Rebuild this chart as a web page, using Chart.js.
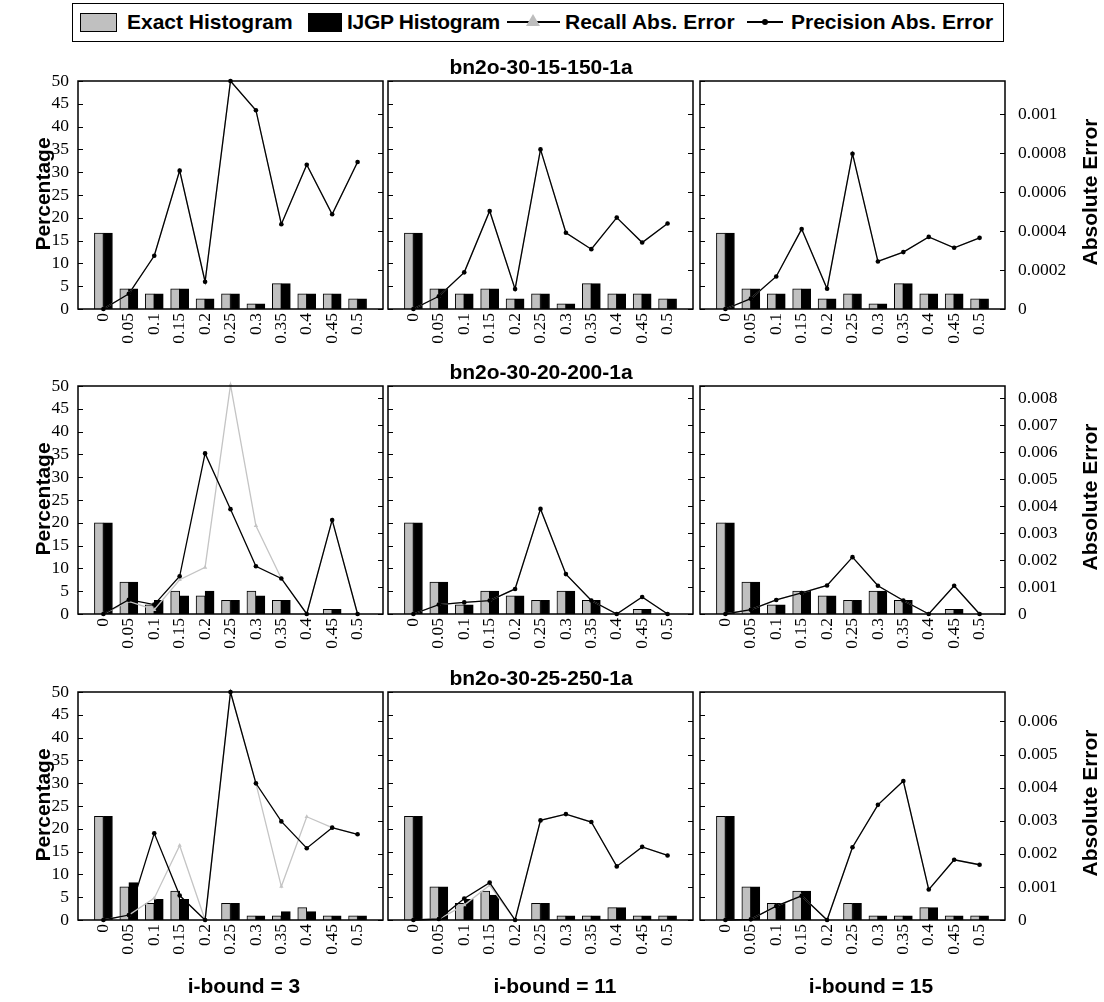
<!DOCTYPE html>
<html lang="en">
<head>
<meta charset="UTF-8">
<title>Exact vs IJGP histograms</title>
<script src="https://cdn.jsdelivr.net/npm/chart.js"></script>
<style>
    body {
        margin: 0;
        background: #fff;
    }

    #page {
        position: relative;
        width: 1104px;
        height: 1002px;
        overflow: hidden;
        font-family: "Liberation Sans", Arial, sans-serif;
        font-weight: bold;
        color: #000;
    }

    canvas {
        position: absolute;
    }

    .lbl {
        position: absolute;
        font-size: 21px;
        line-height: 24px;
        white-space: nowrap;
        z-index: 2;
    }

    .mid { transform: translate(-50%, -50%); }
    .vert { transform: translate(-50%, -50%) rotate(-90deg); }

    #legend {
        position: absolute;
        left: 72px;
        top: 3px;
        width: 932px;
        height: 39px;
        border: 1.5px solid #000;
        box-sizing: border-box;
    }

    .sw {
        position: absolute;
        top: 13px;
        height: 19px;
        border: 1.5px solid #000;
        box-sizing: border-box;
    }

    .legline {
        position: absolute;
        top: 21px;
        height: 2px;
        background: #000;
    }

    .tri {
        position: absolute;
        top: 14px;
        width: 0;
        height: 0;
        border-left: 7px solid transparent;
        border-right: 7px solid transparent;
        border-bottom: 12px solid #bdbdbd;
    }

    .dot {
        position: absolute;
        top: 19px;
        width: 6px;
        height: 6px;
        border-radius: 50%;
        background: #000;
    }
</style>
</head>
<body>
<div id="page">
    <div id="legend"></div>
    <div class="sw" style="left:80px;width:37px;background:#c0c0c0"></div>
    <div class="lbl" style="left:127px;top:10px">Exact Histogram</div>
    <div class="sw" style="left:308px;width:34px;background:#000"></div>
    <div class="lbl" style="left:347px;top:10px;letter-spacing:-0.3px">IJGP Histogram</div>
    <div class="legline" style="left:507px;width:53px"></div>
    <div class="tri" style="left:526px"></div>
    <div class="lbl" style="left:565px;top:10px">Recall Abs. Error</div>
    <div class="legline" style="left:747px;width:36px"></div>
    <div class="dot" style="left:762px"></div>
    <div class="lbl" style="left:791px;top:10px">Precision Abs. Error</div>
</div>

<script>
    const categories = ['0', '0.05', '0.1', '0.15', '0.2', '0.25', '0.3', '0.35', '0.4', '0.45', '0.5'];
    const networks = ['bn2o-30-15-150-1a', 'bn2o-30-20-200-1a', 'bn2o-30-25-250-1a'];
    const iBounds = [3, 11, 15];

    // left axis (percentage) is shared, right axis (absolute error) differs per row
    const percentMax = 50;
    const percentStep = 5;
    const errorMax = [0.00117, 0.00846, 0.00689];
    const errorStep = [0.0002, 0.001, 0.001];

    // bn2o-30-15-150-1a
    const exact1 = [16.67, 4.44, 3.33, 4.44, 2.22, 3.33, 1.11, 5.56, 3.33, 3.33, 2.22];
    const ijgp1_3 = [16.67, 4.44, 3.33, 4.44, 2.22, 3.33, 1.11, 5.56, 3.33, 3.33, 2.22];
    const ijgp1_11 = [16.67, 4.44, 3.33, 4.44, 2.22, 3.33, 1.11, 5.56, 3.33, 3.33, 2.22];
    const ijgp1_15 = [16.67, 4.44, 3.33, 4.44, 2.22, 3.33, 1.11, 5.56, 3.33, 3.33, 2.22];
    const recall1_3 = [0, 0.000078, 0.000273, 0.00071, 0.00014, 0.00117, 0.00102, 0.000435, 0.00074, 0.000486, 0.000754];
    const precision1_3 = [0, 0.000078, 0.000273, 0.00071, 0.00014, 0.00117, 0.00102, 0.000435, 0.00074, 0.000486, 0.000754];
    const recall1_11 = [0, 0.000065, 0.000188, 0.000503, 0.000102, 0.000819, 0.000391, 0.000307, 0.000469, 0.000341, 0.000439];
    const precision1_11 = [0, 0.000065, 0.000188, 0.000503, 0.000102, 0.000819, 0.000391, 0.000307, 0.000469, 0.000341, 0.000439];
    const recall1_15 = [0, 0.000053, 0.000167, 0.00041, 0.000104, 0.000797, 0.000244, 0.000292, 0.00037, 0.000314, 0.000365];
    const precision1_15 = [0, 0.000053, 0.000167, 0.00041, 0.000104, 0.000797, 0.000244, 0.000292, 0.00037, 0.000314, 0.000365];

    // bn2o-30-20-200-1a
    const exact2 = [20, 7, 2, 5, 4, 3, 5, 3, 0, 1, 0];
    const ijgp2_3 = [20, 7, 3, 4, 5, 3, 4, 3, 0, 1, 0];
    const ijgp2_11 = [20, 7, 2, 5, 4, 3, 5, 3, 0, 1, 0];
    const ijgp2_15 = [20, 7, 2, 5, 4, 3, 5, 3, 0, 1, 0];
    const recall2_3 = [0, 0.00047, 0.00016, 0.00127, 0.00173, 0.0085, 0.00327, 0.00132, 0, 0.00349, 0];
    const precision2_3 = [0, 0.00053, 0.00035, 0.0014, 0.00596, 0.00389, 0.00177, 0.00132, 0, 0.00349, 0];
    const recall2_11 = [0, 0.00035, 0.00043, 0.0005, 0.00093, 0.0039, 0.00148, 0.0005, 0, 0.00063, 0];
    const precision2_11 = [0, 0.00035, 0.00043, 0.0005, 0.00093, 0.0039, 0.00148, 0.0005, 0, 0.00063, 0];
    const recall2_15 = [0, 0.00016, 0.00052, 0.00078, 0.00106, 0.00211, 0.00105, 0.0005, 0, 0.00105, 0];
    const precision2_15 = [0, 0.00016, 0.00052, 0.00078, 0.00106, 0.00211, 0.00105, 0.0005, 0, 0.00105, 0];

    // bn2o-30-25-250-1a
    const exact3 = [22.73, 7.27, 3.64, 6.36, 0, 3.64, 0.91, 0.91, 2.73, 0.91, 0.91];
    const ijgp3_3 = [22.73, 8.18, 4.55, 4.55, 0, 3.64, 0.91, 1.82, 1.82, 0.91, 0.91];
    const ijgp3_11 = [22.73, 7.27, 4.55, 5.45, 0, 3.64, 0.91, 0.91, 2.73, 0.91, 0.91];
    const ijgp3_15 = [22.73, 7.27, 3.64, 6.36, 0, 3.64, 0.91, 0.91, 2.73, 0.91, 0.91];
    const recall3_3 = [0, 0.00015, 0.00066, 0.00225, 0, 0.00689, 0.00413, 0.00101, 0.00312, 0.00279, 0.00259];
    const precision3_3 = [0, 0.00015, 0.00262, 0.00074, 0, 0.00689, 0.00413, 0.00298, 0.00217, 0.00279, 0.00259];
    const recall3_11 = [0, 0.00003, 0.00045, 0.00105, 0, 0.00301, 0.0032, 0.00296, 0.00162, 0.00221, 0.00195];
    const precision3_11 = [0, 0.00003, 0.00065, 0.00113, 0, 0.00301, 0.0032, 0.00296, 0.00162, 0.00221, 0.00195];
    const recall3_15 = [0, 0.00002, 0.00042, 0.00073, 0, 0.0022, 0.00348, 0.0042, 0.00092, 0.00182, 0.00167];
    const precision3_15 = [0, 0.00002, 0.00042, 0.00073, 0, 0.0022, 0.00348, 0.0042, 0.00092, 0.00182, 0.00167];

    const panels = [
        [
            { exact: exact1, ijgp: ijgp1_3, recall: recall1_3, precision: precision1_3 },
            { exact: exact1, ijgp: ijgp1_11, recall: recall1_11, precision: precision1_11 },
            { exact: exact1, ijgp: ijgp1_15, recall: recall1_15, precision: precision1_15 }
        ],
        [
            { exact: exact2, ijgp: ijgp2_3, recall: recall2_3, precision: precision2_3 },
            { exact: exact2, ijgp: ijgp2_11, recall: recall2_11, precision: precision2_11 },
            { exact: exact2, ijgp: ijgp2_15, recall: recall2_15, precision: precision2_15 }
        ],
        [
            { exact: exact3, ijgp: ijgp3_3, recall: recall3_3, precision: precision3_3 },
            { exact: exact3, ijgp: ijgp3_11, recall: recall3_11, precision: precision3_11 },
            { exact: exact3, ijgp: ijgp3_15, recall: recall3_15, precision: precision3_15 }
        ]
    ];

    // plot box placement
    const plotLeft = [78, 388, 700];
    const plotTop = [81, 386, 692];
    const plotW = 305, plotH = 228;
    const mLeft = 60, mRight = 80, mTop = 28, mBottom = 70;

    const page = document.getElementById('page');
    const tickFont = { family: 'Liberation Serif', size: 17.5 };

    // empty slot on each side, like the original plot
    const pad = arr => [null, ...arr, null];

    // frame around the plot and small inward ticks on both sides
    const framePlugin = {
        id: 'frame',
        afterDatasetsDraw(chart) {
            const ctx = chart.ctx;
            const a = chart.chartArea;
            ctx.save();
            ctx.strokeStyle = '#000';
            ctx.lineWidth = 1;
            ctx.beginPath();
            chart.scales.y.ticks.forEach(t => {
                const p = Math.round(chart.scales.y.getPixelForValue(t.value)) + 0.5;
                ctx.moveTo(a.left, p);
                ctx.lineTo(a.left + 5, p);
            });
            chart.scales.y2.ticks.forEach(t => {
                const p = Math.round(chart.scales.y2.getPixelForValue(t.value)) + 0.5;
                ctx.moveTo(a.right - 5, p);
                ctx.lineTo(a.right, p);
            });
            ctx.stroke();
            ctx.lineWidth = 1.5;
            ctx.strokeRect(a.left, a.top, a.right - a.left, a.bottom - a.top);
            ctx.restore();
        }
    };

    function drawPanel(row, col) {
        const d = panels[row][col];
        const canvas = document.createElement('canvas');
        canvas.width = mLeft + plotW + mRight;
        canvas.height = mTop + plotH + mBottom;
        canvas.style.left = (plotLeft[col] - mLeft) + 'px';
        canvas.style.top = (plotTop[row] - mTop) + 'px';
        page.appendChild(canvas);

        new Chart(canvas, {
            type: 'bar',
            data: {
                labels: ['', ...categories, ''],
                datasets: [
                    {
                        type: 'line',
                        label: 'Precision Abs. Error',
                        data: pad(d.precision),
                        yAxisID: 'y2',
                        borderColor: '#000',
                        borderWidth: 1.3,
                        pointRadius: 2.3,
                        pointBackgroundColor: '#000',
                        pointBorderWidth: 0,
                        clip: false,
                        order: 0
                    },
                    {
                        type: 'line',
                        label: 'Recall Abs. Error',
                        data: pad(d.recall),
                        yAxisID: 'y2',
                        borderColor: '#c4c4c4',
                        borderWidth: 1.3,
                        pointStyle: 'triangle',
                        pointRadius: 2.5,
                        pointBackgroundColor: '#c4c4c4',
                        pointBorderWidth: 0,
                        clip: false,
                        order: 1
                    },
                    {
                        label: 'Exact Histogram',
                        data: pad(d.exact),
                        yAxisID: 'y',
                        backgroundColor: '#c0c0c0',
                        borderColor: '#000',
                        borderWidth: 1,
                        barThickness: 9,
                        order: 2
                    },
                    {
                        label: 'IJGP Histogram',
                        data: pad(d.ijgp),
                        yAxisID: 'y',
                        backgroundColor: '#000',
                        borderColor: '#000',
                        borderWidth: 1,
                        barThickness: 9,
                        order: 3
                    }
                ]
            },
            options: {
                responsive: false,
                animation: false,
                devicePixelRatio: 1,
                layout: { padding: { top: mTop, left: 0, right: 0, bottom: 0 } },
                plugins: {
                    legend: { display: false },
                    tooltip: { enabled: false }
                },
                scales: {
                    x: {
                        offset: false,
                        grid: { display: false, drawTicks: false },
                        border: { display: false },
                        ticks: {
                            autoSkip: false,
                            minRotation: 90,
                            maxRotation: 90,
                            padding: 4,
                            color: '#000',
                            font: tickFont
                        },
                        afterFit: s => { s.height = mBottom; }
                    },
                    y: {
                        position: 'left',
                        min: 0,
                        max: percentMax,
                        grid: { display: false, drawTicks: false },
                        border: { display: false },
                        ticks: {
                            stepSize: percentStep,
                            autoSkip: false,
                            display: col === 0,
                            padding: 9,
                            color: '#000',
                            font: tickFont
                        },
                        afterFit: s => { s.width = mLeft; }
                    },
                    y2: {
                        position: 'right',
                        min: 0,
                        max: errorMax[row],
                        grid: { display: false, drawTicks: false },
                        border: { display: false },
                        ticks: {
                            stepSize: errorStep[row],
                            includeBounds: false,
                            autoSkip: false,
                            display: col === 2,
                            padding: 13,
                            color: '#000',
                            font: tickFont,
                            callback: v => String(+v.toFixed(4))
                        },
                        afterFit: s => { s.width = mRight; }
                    }
                }
            },
            plugins: [framePlugin]
        });
    }

    function addText(text, x, y, cls) {
        const el = document.createElement('div');
        el.className = 'lbl ' + cls;
        el.style.left = x + 'px';
        el.style.top = y + 'px';
        el.textContent = text;
        page.appendChild(el);
    }

    for (let r = 0; r < 3; r++) {
        for (let c = 0; c < 3; c++) {
            drawPanel(r, c);
        }
        addText(networks[r], 541, plotTop[r] - 14.5, 'mid');
        addText('Percentage', 43, plotTop[r] + 113, 'vert');
        addText('Absolute Error', 1090, plotTop[r] + 111, 'vert');
    }

    const iBoundX = [244, 555, 871];
    iBounds.forEach((b, i) => addText('i-bound = ' + b, iBoundX[i], 986, 'mid'));
</script>
</body>
</html>
